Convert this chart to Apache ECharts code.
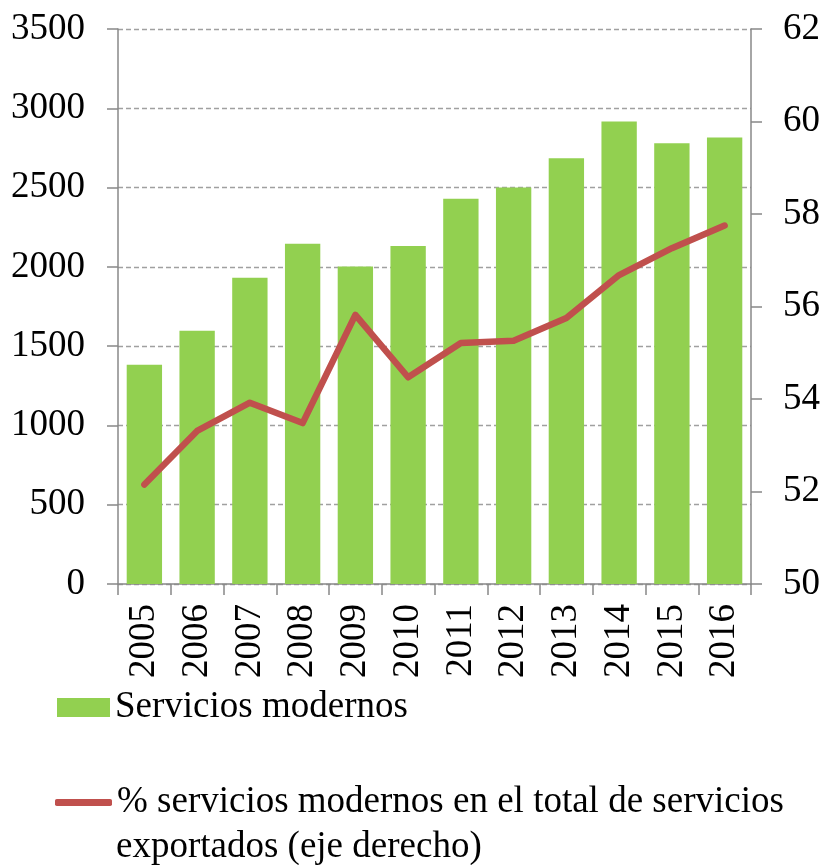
<!DOCTYPE html>
<html>
<head>
<meta charset="utf-8">
<script src="https://cdn.jsdelivr.net/npm/echarts@6/dist/echarts.min.js"></script>
<style>
html,body{margin:0;padding:0;background:#fff;}
#c{width:825px;height:865px;}
</style>
</head>
<body>
<div id="c"></div>
<script>
const years = ['2005','2006','2007','2008','2009','2010','2011','2012','2013','2014','2015','2016'];
const serviciosModernos = [1382, 1597, 1932, 2145, 2002, 2132, 2429, 2500, 2685, 2916, 2780, 2815];
const porcentajeModernos = [52.15, 53.31, 53.92, 53.48, 55.82, 54.47, 55.21, 55.26, 55.75, 56.68, 57.26, 57.75];
const leftTicks = {min: 0, max: 3500, interval: 500};
const rightTicks = {min: 50, max: 62, interval: 2};
const barName = 'Servicios modernos';
const lineName = '% servicios modernos en el total de servicios';
const lineName2 = 'exportados (eje derecho)';

const FONT = 'Liberation Serif';
const FS = 37;
const axisGray = '#888888';
const chart = echarts.init(document.getElementById('c'), null, {renderer: 'canvas'});
chart.setOption({
  animation: false,
  backgroundColor: '#ffffff',
  grid: {left: 118, right: 74, top: 29, bottom: 281, containLabel: false},
  legend: [
    {
      data: [{name: barName, icon: 'rect'}],
      left: 57, top: 689,
      itemWidth: 53, itemHeight: 19,
      padding: 0,
      textStyle: {fontFamily: FONT, fontSize: FS, color: '#000'}
    },
    {
      data: [{name: lineName, icon: 'roundRect'}],
      left: 55, top: 784,
      itemWidth: 57, itemHeight: 7,
      padding: 0,
      itemStyle: {color: '#c0504d'},
      textStyle: {fontFamily: FONT, fontSize: FS, color: '#000'}
    }
  ],
  graphic: [{
    type: 'text', left: 116, top: 829,
    style: {text: lineName2, font: FS + 'px "Liberation Serif"', fill: '#000'}
  }],
  xAxis: {
    type: 'category',
    data: years,
    axisLine: {lineStyle: {color: axisGray, width: 1.5}},
    axisTick: {show: true, length: 11, lineStyle: {color: axisGray, width: 1.5}},
    axisLabel: {rotate: 90, margin: 20, fontFamily: FONT, fontSize: FS, color: '#000'}
  },
  yAxis: [
    {
      type: 'value', min: leftTicks.min, max: leftTicks.max, interval: leftTicks.interval,
      position: 'left',
      axisLine: {show: true, lineStyle: {color: axisGray, width: 1.5}},
      axisTick: {show: true, length: 11, lineStyle: {color: axisGray, width: 1.5}},
      axisLabel: {margin: 33, fontFamily: FONT, fontSize: FS, color: '#000', formatter: v => String(v)},
      splitLine: {show: true, lineStyle: {color: '#a0a0a0', width: 1.3, type: [5, 3]}}
    },
    {
      type: 'value', min: rightTicks.min, max: rightTicks.max, interval: rightTicks.interval,
      position: 'right',
      axisLine: {show: true, lineStyle: {color: axisGray, width: 1.5}},
      axisTick: {show: true, length: 11, lineStyle: {color: axisGray, width: 1.5}},
      axisLabel: {margin: 32, fontFamily: FONT, fontSize: FS, color: '#000', formatter: v => String(v)},
      splitLine: {show: false}
    }
  ],
  series: [
    {
      name: barName, type: 'bar', data: serviciosModernos, yAxisIndex: 0,
      barCategoryGap: '33%',
      itemStyle: {color: '#92d050'}
    },
    {
      name: lineName, type: 'line', data: porcentajeModernos, yAxisIndex: 1,
      symbol: 'none', showSymbol: false,
      lineStyle: {color: '#c0504d', width: 6.5, cap: 'round', join: 'round'},
      itemStyle: {color: '#c0504d'}
    }
  ]
});
</script>
</body>
</html>
